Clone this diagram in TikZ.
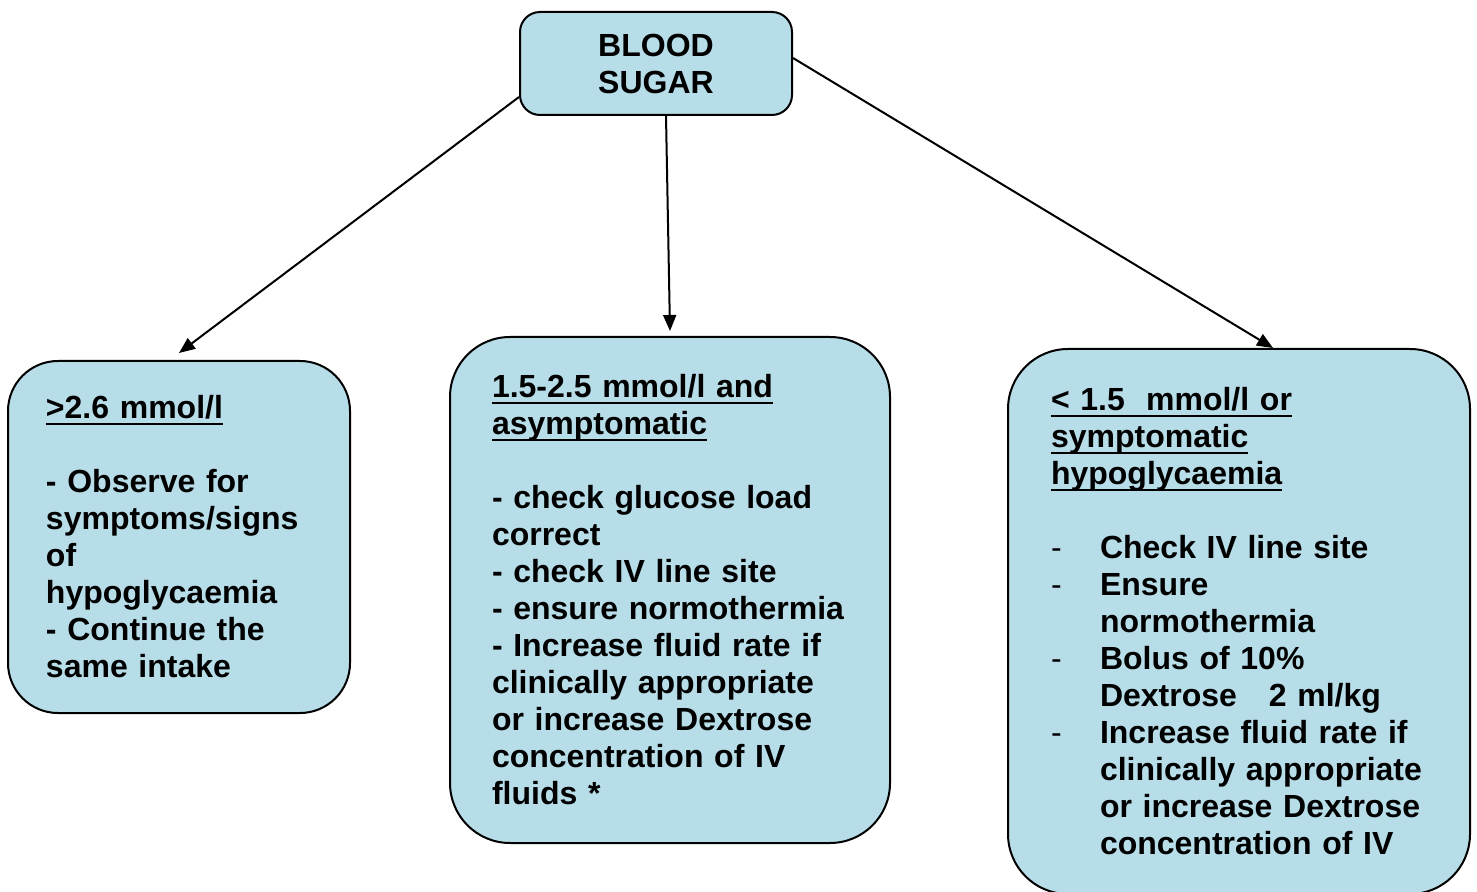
\documentclass[tikz,border=0pt]{standalone}
\usepackage{fontspec}
\setmainfont{Liberation Sans}
\usetikzlibrary{arrows.meta}
\definecolor{sugarblue}{HTML}{B7DDE8}
\newcommand{\ulin}[1]{\leavevmode\setbox0\hbox{#1}\rlap{\rule[-3pt]{\wd0}{1pt}}\box0}
\newcommand{\dsh}{\makebox[24.5pt][l]{\mdseries -}}
\newcommand{\ind}{\hspace*{24.5pt}}

\begin{document}
\begin{tikzpicture}[x=0.5pt,y=-0.5pt]
\tikzstyle{box}=[draw=black, line width=1pt, fill=sugarblue, align=left,
                        font=\bfseries\fontsize{16}{18.5}\selectfont]
\tikzstyle{arr}=[-{Triangle[length=8pt,width=6.5pt]}, line width=1pt]
\useasboundingbox (0,0) rectangle (1477,892);
\clip (0,0) rectangle (1477,892);
	\node[box, align=center, rounded corners=10pt, minimum width=136pt, minimum height=51.5pt] (sugar) at (656,63.5){BLOOD\\SUGAR};
	\node[box, rounded corners=25pt, text width=133pt, inner xsep=19pt, minimum height=176pt] (high) at (179,537){\ulin{>2.6 mmol/l}\\[18.5pt]
- Observe for\\symptoms/signs\\of\\hypoglycaemia\\- Continue the\\same intake};
	\node[box, rounded corners=30pt, text width=178pt, inner xsep=21pt, minimum height=253pt] (mid) at (670,590){\ulin{1.5-2.5 mmol/l and}\\\ulin{asymptomatic}\\[18.5pt]
- check glucose load\\correct\\- check IV line site\\- ensure normothermia\\- Increase fluid rate if\\clinically appropriate\\or increase Dextrose\\concentration of IV\\fluids *};
	\node[box, rounded corners=30pt, text width=188pt, inner xsep=21.5pt, minimum height=272.5pt] (low) at (1239,621.5){\ulin{<~1.5~~mmol/l or}\\\ulin{symptomatic}\\\ulin{hypoglycaemia}\\[18.5pt]
\dsh Check IV line site\\\dsh Ensure\\\ind normothermia\\\dsh Bolus of 10\%\\\ind Dextrose\ \ \ 2 ml/kg\\\dsh Increase fluid rate if\\\ind clinically appropriate\\\ind or increase Dextrose\\\ind concentration of IV};
\draw[arr] ([yshift=-16.75pt]sugar.west)--([yshift=3.5pt]high.north);
\draw[arr] ([xshift=5pt]sugar.south)--([yshift=2.5pt]mid.north);
\draw[arr] ([yshift=2.75pt]sugar.east)--([xshift=17pt]low.north);
\end{tikzpicture}
\end{document}
